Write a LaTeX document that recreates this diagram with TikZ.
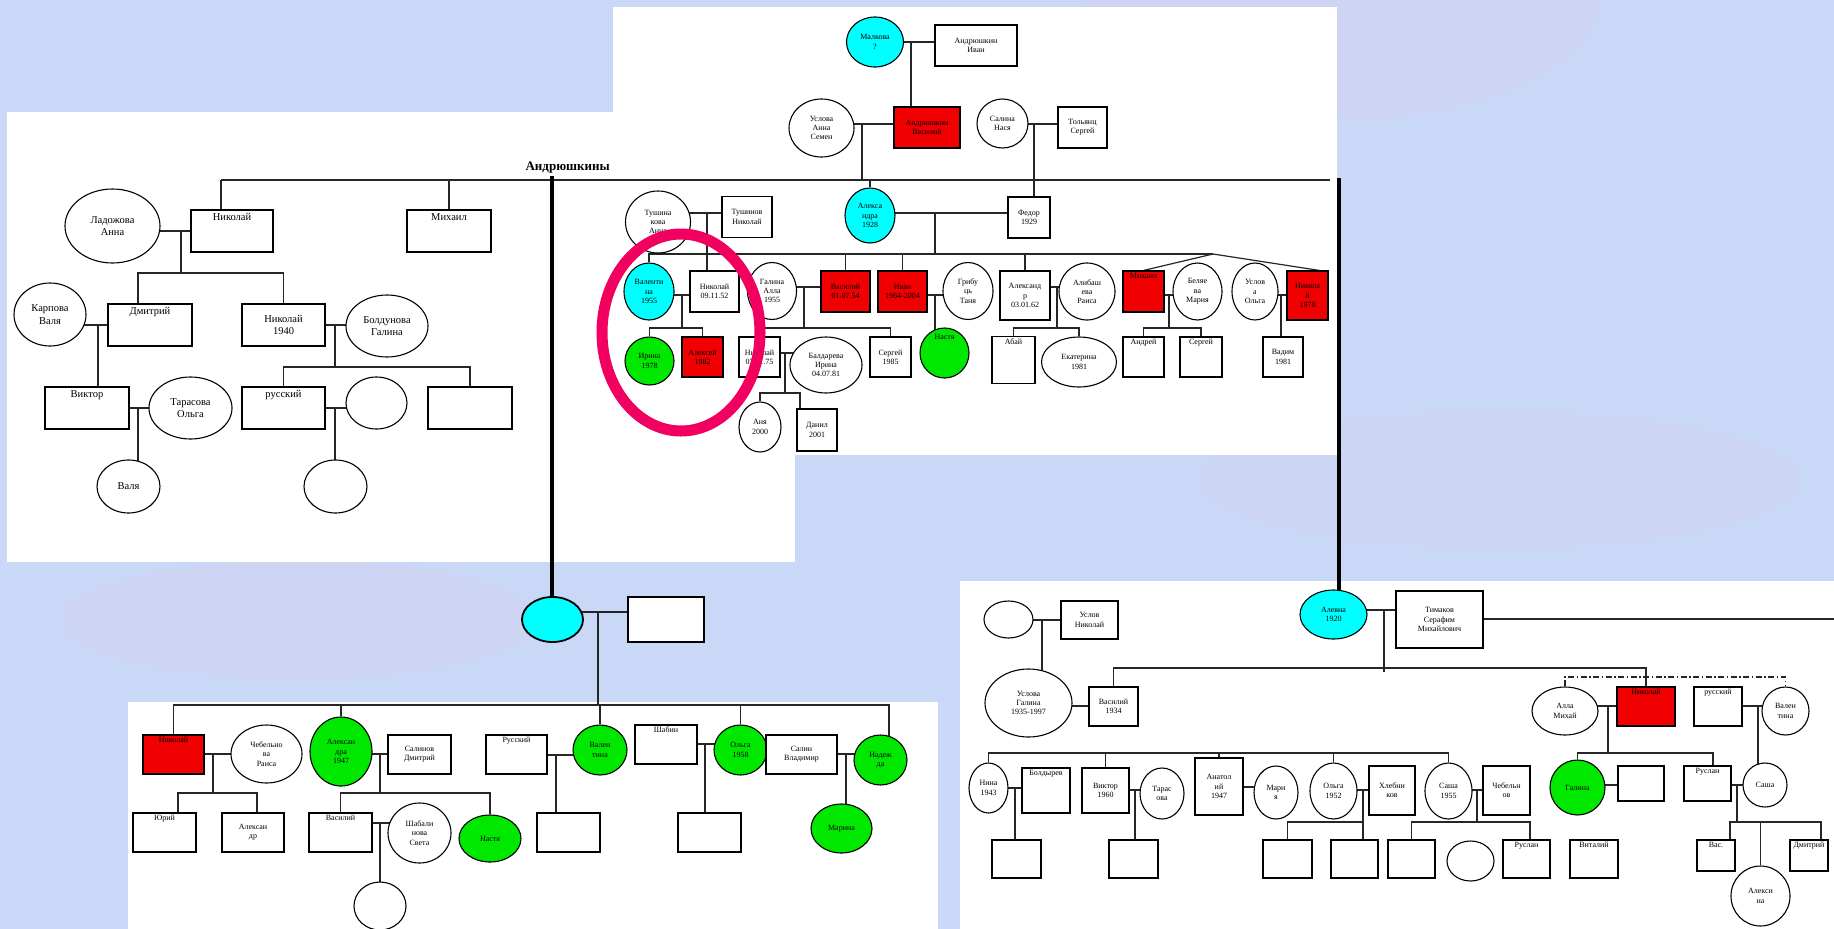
\documentclass[tikz,border=0pt]{standalone}
\usepackage{fontspec}
\setmainfont{Liberation Serif}
\usetikzlibrary{shapes.geometric}
\pgfdeclarelayer{panels}
\pgfdeclarelayer{lines}
\pgfsetlayers{panels,lines,main}
\definecolor{bgc}{RGB}{200,216,246}
\definecolor{bgd}{RGB}{214,208,242}
\definecolor{cyanc}{RGB}{0,255,255}
\definecolor{redc}{RGB}{240,0,0}
\definecolor{greenc}{RGB}{0,232,0}
\definecolor{pinkc}{RGB}{242,0,96}
\newcommand\smfnt{\fontsize{8}{9.3}\selectfont}
\newcommand\bgfnt{\fontsize{10.5}{12.5}\selectfont}
\tikzset{
  pp/.style={draw=black, line width=1.1pt, fill=white, inner sep=0.5pt, align=center, font=\smfnt},
  bx/.style={pp, rectangle},
  el/.style={pp, ellipse},
  big/.style={font=\bgfnt},
  cy/.style={fill=cyanc},
  rd/.style={fill=redc},
  gr/.style={fill=greenc},
  sz/.style 2 args={minimum width=#1pt, minimum height=#2pt},
  tt/.style={label={[anchor=north,inner sep=2.5pt,font=\smfnt]north:#1}},
  tte/.style={label={[anchor=north,inner sep=7pt,font=\smfnt]north:#1}},
  ttb/.style={label={[anchor=north,inner sep=4pt,font=\bgfnt]north:#1}},
  ln/.style={line width=1.2pt, draw=black!85},
  thk/.style={line width=4pt, draw=black},
  ddash/.style={ln, dash pattern=on 6pt off 2.5pt on 1.5pt off 2.5pt},
}
\begin{document}
\begin{tikzpicture}[x=1pt,y=-1pt]
\useasboundingbox (0,0) rectangle (1834,929);
\begin{pgfonlayer}{panels}
  \fill[bgc] (0,0) rectangle (1834,929);
  \fill[bgd,opacity=0.45] (1340,0) ellipse [x radius=260pt, y radius=120pt];
  \fill[bgd,opacity=0.45] (300,620) ellipse [x radius=240pt, y radius=60pt];
  \fill[bgd,opacity=0.35] (1500,480) ellipse [x radius=300pt, y radius=70pt];
  \fill[white] (7,112) rectangle (795,562);
  \fill[white] (613,7) rectangle (1337,455);
  \fill[white] (128,702) rectangle (938,929);
  \fill[white] (960,581) rectangle (1834,929);
\end{pgfonlayer}

% ---------- top panel ----------
\node[el,cy,sz={57}{50}] (malk) at (875,42) {Малкова\\?};
\node[bx,sz={82}{41}] (ivan) at (976,45.5) {Андрюшкин\\Иван};
\node[bx,rd,sz={66}{41}] (vasA) at (927,127.5) {Андрюшкин\\Василий};
\node[el,sz={65}{58}] (uslA) at (821.5,128) {Услова\\Анна\\Семен};
\node[el,sz={51}{49}] (salN) at (1002.5,123.5) {Салина\\Нася};
\node[bx,sz={49}{41}] (tolS) at (1082.5,127.5) {Тольянц\\Сергей};
\node[el,sz={65}{62}] (tush) at (658,222) {Тушина\\кова\\Анна};
\node[bx,sz={50}{41}] (tushN) at (747,217) {Тушинов\\Николай};
\node[el,cy,sz={50}{55}] (alex28) at (870,215.5) {Алекса\\ндра\\1928};
\node[bx,sz={42}{41}] (fed) at (1029,217.5) {Федор\\1929};
\node[el,cy,sz={50}{57}] (val55) at (649,291.5) {Валенти\\на\\1955};
\node[bx,sz={49}{41}] (nik52) at (714.5,291.5) {Николай\\09.11.52};
\node[el,sz={49}{57}] (galA) at (772,291) {Галина\\Алла\\1955};
\node[bx,rd,sz={49}{41}] (vas54) at (845.5,291.5) {Василий\\01.07.54};
\node[bx,rd,sz={49}{41}] (ivan64) at (902.5,291.5) {Иван\\1964-2004};
\node[el,sz={50}{57}] (grib) at (968,291) {Грибу\\ць\\Таня};
\node[bx,sz={50}{49}] (alexr) at (1025,295.5) {Александ\\р\\03.01.62};
\node[el,sz={56}{57}] (alib) at (1087,291.5) {Алибаш\\ева\\Раиса};
\node[bx,rd,sz={41}{41},tt={Михаил}] (mikh) at (1143.5,291.5) {};
\node[el,sz={49}{57}] (bel) at (1197.5,291.5) {Беляе\\ва\\Мария};
\node[el,sz={46}{57}] (uslO) at (1255,291.5) {Услов\\а\\Ольга};
\node[bx,rd,sz={41}{49}] (nik78) at (1307.5,295.5) {Никола\\й\\1978};
\node[el,gr,sz={49}{48}] (irina) at (649.5,361) {Ирина\\1978};
\node[bx,rd,sz={41}{40}] (alexey) at (702.5,357) {Алексей\\1982};
\node[bx,sz={41}{40}] (nik75) at (759.5,357) {Николай\\07.11.75};
\node[el,sz={72}{56}] (bald) at (826,365) {Балдарева\\Ирина\\04.07.81};
\node[bx,sz={41}{40}] (serg85) at (890.5,357) {Сергей\\1985};
\node[el,gr,sz={49}{50},tte={Настя}] (nast1) at (944.5,353) {};
\node[bx,sz={43}{47},tt={Абай}] (abai) at (1013.5,360) {};
\node[el,sz={75}{50}] (ekat) at (1079,362) {Екатерина\\1981};
\node[bx,sz={41}{40},tt={Андрей}] (andr) at (1143.5,357) {};
\node[bx,sz={42}{40},tt={Сергей}] (serg) at (1201,357) {};
\node[bx,sz={40}{40}] (vad) at (1283,357) {Вадим\\1981};
\node[el,sz={42}{50}] (lev) at (760,427) {Аня\\2000};
\node[bx,sz={40}{42}] (dan) at (817,430) {Данил\\2001};

% ---------- left panel ----------
\node[anchor=base east,font=\fontsize{13}{15}\selectfont\bfseries,inner sep=1pt] (andlab) at (611,170) {Андрюшкины};
\node[bx,big,sz={82}{42},ttb={Николай}] (nikL) at (232,231) {};
\node[bx,big,sz={84}{42},ttb={Михаил}] (mikhL) at (449,231) {};
\node[el,big,sz={95}{74}] (lad) at (112.5,226) {Ладожова\\Анна};
\node[el,big,sz={72}{63}] (karp) at (50,314.5) {Карпова\\Валя};
\node[bx,big,sz={84}{42},ttb={Дмитрий}] (dmit) at (150,325) {};
\node[bx,big,sz={83}{42}] (nik40) at (283.5,325) {Николай\\1940};
\node[el,big,sz={82}{62}] (bold) at (387,326) {Болдунова\\Галина};
\node[bx,big,sz={84}{42},ttb={Виктор}] (vikt) at (87,408) {};
\node[el,big,sz={83}{62}] (tar) at (190.5,408) {Тарасова\\Ольга};
\node[el,big,sz={63}{53}] (valya) at (128.5,486.5) {Валя};
\node[bx,big,sz={83}{42},ttb={русский}] (rus1) at (283.5,408) {};
\node[el,sz={61}{52}] (e1) at (376.5,403) {};
\node[el,sz={63}{53}] (e2) at (335.5,486.5) {};
\node[bx,sz={84}{42}] (b1) at (470,408) {};

% ---------- middle couple ----------
\node[el,cy,line width=1.8pt,sz={61}{45}] (cyanM) at (552.5,619.5) {};
\node[bx,line width=1.8pt,sz={76}{45}] (boxM) at (666,619.5) {};

% ---------- bottom-left panel ----------
\node[bx,rd,sz={61}{39},tt={Николай}] (nikB) at (173.5,754.5) {};
\node[el,sz={71}{58}] (cheb) at (266.5,754) {Чебельно\\ва\\Раиса};
\node[el,gr,sz={62}{69}] (alex47) at (341,751.5) {Алексан\\дра\\1947};
\node[bx,sz={63}{39}] (salD) at (419.5,754.5) {Салинов\\Дмитрий};
\node[bx,sz={61}{39},tt={Русский}] (rusB) at (516.5,754.5) {};
\node[el,gr,sz={54}{50}] (valB) at (600,750) {Вален\\тина};
\node[bx,sz={62}{39},tt={Шабин}] (shab) at (666,744.5) {};
\node[el,gr,sz={53}{50}] (olga58) at (740.5,750) {Ольга\\1958};
\node[bx,sz={71}{39}] (salV) at (801.5,754.5) {Салин\\Владимир};
\node[el,gr,sz={53}{50}] (nad) at (880.5,760) {Надеж\\да};
\node[bx,sz={63}{39},tt={Юрий}] (yur) at (164.5,832.5) {};
\node[bx,sz={62}{39}] (alexB) at (253,832.5) {Алексан\\др};
\node[bx,sz={63}{39},tt={Василий}] (vasB) at (340.5,832.5) {};
\node[el,sz={63}{60}] (shabS) at (419.5,833) {Шабали\\нова\\Света};
\node[el,gr,sz={62}{47}] (nastB) at (490,838.5) {Настя};
\node[bx,sz={63}{39}] (eb1) at (568.5,832.5) {};
\node[bx,sz={63}{39}] (eb2) at (709.5,832.5) {};
\node[el,gr,sz={61}{49}] (mar) at (841.5,828.5) {Марина};
\node[el,sz={52}{48}] (ee1) at (380,906) {};

% ---------- bottom-right panel ----------
\node[el,sz={49}{37}] (er1) at (1008.5,619.5) {};
\node[bx,sz={57}{38}] (uslN) at (1089.5,620) {Услов\\Николай};
\node[el,sz={87}{68}] (uslG) at (1028.5,703) {Услова\\Галина\\1935-1997};
\node[bx,sz={49}{39}] (vas34) at (1113.5,706.5) {Василий\\1934};
\node[el,cy,sz={67}{49}] (alev) at (1333.5,614.5) {Алевна\\1920};
\node[bx,sz={87}{57}] (tim) at (1439.5,619.5) {Тимаков\\Серафим\\Михайлович};
\node[el,sz={66}{48}] (alla) at (1565,711) {Алла\\Михай};
\node[bx,rd,sz={58}{39},tt={Николай}] (nikR) at (1646,706.5) {};
\node[bx,sz={48}{39},tt={русский}] (rusR) at (1718,706.5) {};
\node[el,sz={47}{48}] (valR) at (1785.5,711) {Вален\\тина};
\node[el,sz={39}{50}] (nina) at (988.5,788) {Нина\\1943};
\node[bx,sz={48}{45},tt={Болдырев}] (boldR) at (1046,790.5) {};
\node[bx,sz={47}{45}] (vik60) at (1105.5,790.5) {Виктор\\1960};
\node[el,sz={44}{51}] (tarR) at (1162,793.5) {Тарас\\ова};
\node[bx,sz={48}{57}] (anat) at (1219,786.5) {Анатол\\ий\\1947};
\node[el,sz={44}{53}] (mari) at (1276,792.5) {Мари\\я};
\node[el,sz={47}{56}] (olga52) at (1333.5,791) {Ольга\\1952};
\node[bx,sz={46}{49}] (hleb) at (1392,790.5) {Хлебни\\ков};
\node[el,sz={47}{56}] (sasha55) at (1448.5,791) {Саша\\1955};
\node[bx,sz={47}{49}] (chebR) at (1506.5,790.5) {Чебельн\\ов};
\node[el,gr,sz={55}{55}] (galG) at (1577.5,787.5) {Галина};
\node[bx,sz={46}{35}] (ebR) at (1641,783.5) {};
\node[bx,sz={47}{35},tt={Руслан}] (ruslR) at (1707.5,783.5) {};
\node[el,sz={44}{44}] (sashaR) at (1765,785) {Саша};
\node[bx,sz={49}{38}] (L1) at (1016.5,859) {};
\node[bx,sz={49}{38}] (L2) at (1133.5,859) {};
\node[bx,sz={49}{38}] (L3) at (1287.5,859) {};
\node[bx,sz={47}{38}] (L4) at (1354.5,859) {};
\node[bx,sz={47}{38}] (L5) at (1411.5,859) {};
\node[el,sz={47}{40}] (L6) at (1470.5,861) {};
\node[bx,sz={47}{38},tt={Руслан}] (ruslL) at (1526.5,859) {};
\node[bx,sz={48}{38},tt={Виталий}] (vitL) at (1594,859) {};
\node[bx,sz={38}{31},tt={Вас.}] (vasL) at (1716,855.5) {};
\node[bx,sz={38}{31},tt={Дмитрий}] (dmL) at (1809,855.5) {};
\node[el,sz={59}{60}] (alexina) at (1760.5,896) {Алекси\\на};

% ---------- coordinates ----------
\coordinate (andL) at (221,180);
\coordinate (andR) at (1330,180);
\coordinate (j1) at (911,42);
\coordinate (j2) at (862,124);
\coordinate (j3) at (1034,124);
\coordinate (j4) at (707,213);
\coordinate (j5) at (935,213);
\coordinate (sibP) at (1213,254);
\coordinate (j6) at (682,295);
\coordinate (b6) at (682,328);
\coordinate (j7) at (804,287);
\coordinate (b7) at (804,328);
\coordinate (j8) at (935,295);
\coordinate (j9) at (1057,287);
\coordinate (b9) at (1057,328);
\coordinate (j10) at (1169,295);
\coordinate (b10) at (1169,328);
\coordinate (j11) at (1281,295);
\coordinate (j12) at (785,353);
\coordinate (b12) at (785,393);
\coordinate (d12) at (800,393);
\coordinate (jL1) at (181,231);
\coordinate (bL1) at (181,273);
\coordinate (jL2) at (98,325);
\coordinate (jL3) at (335,325);
\coordinate (bL3) at (335,367);
\coordinate (jL4) at (138,408);
\coordinate (jL5) at (335,408);
\coordinate (tA) at (552,176);
\coordinate (tB) at (1339,178);
\coordinate (jM) at (598,612);
\coordinate (bBL) at (598,705);
\coordinate (jB1) at (213,754);
\coordinate (bB1) at (213,793);
\coordinate (jB2) at (380,754);
\coordinate (bB2) at (380,793);
\coordinate (jB3) at (556,755);
\coordinate (jB4) at (705,744);
\coordinate (jB5) at (846,754);
\coordinate (jB6) at (380,823);
\coordinate (jR1) at (1042,620);
\coordinate (jR2) at (1080,706);
\coordinate (jR3) at (1384,610);
\coordinate (bR1) at (1384,668);
\coordinate (tR) at (1834,619);
\coordinate (dd) at (1646,677);
\coordinate (jR4) at (1608,706);
\coordinate (bR4) at (1608,753);
\coordinate (jR5) at (1758,706);
\coordinate (bR6) at (1200,753);
\coordinate (jR7) at (1015,788);
\coordinate (jR8) at (1135,790);
\coordinate (jR9) at (1248,787);
\coordinate (jR10) at (1363,790);
\coordinate (bR10) at (1363,822);
\coordinate (jR11) at (1477,790);
\coordinate (bR11) at (1477,822);
\coordinate (jR12) at (1611,785);
\coordinate (jR13) at (1737,785);
\coordinate (bR13) at (1737,822);

\begin{pgfonlayer}{lines}
% top panel
\draw[ln] (malk) -- (malk -| ivan);
\draw[ln] (j1) -- (j1 |- vasA);
\draw[ln] (uslA |- j2) -- (vasA |- j2);
\draw[ln] (j2) -- (j2 |- andL);
\draw[ln] (andL) -- (andR);
\draw[ln] (alex28 |- andL) -- (alex28);
\draw[ln] (salN |- j3) -- (tolS |- j3);
\draw[ln] (j3) -- (j3 |- fed);
\draw[ln] (tush |- j4) -- (tushN |- j4);
\draw[ln] (j4) -- (j4 |- nik52);
\draw[ln] (alex28 |- j5) -- (fed |- j5);
\draw[ln] (j5) -- (j5 |- sibP);
\draw[ln] (val55) -- (val55 |- sibP) -- (sibP);
\draw[ln] (vas54 |- sibP) -- (vas54);
\draw[ln] (ivan64 |- sibP) -- (ivan64);
\draw[ln] (alexr |- sibP) -- (alexr);
\draw[ln] (mikh.north) -- (sibP) -- ([xshift=12pt]nik78.north);
\draw[ln] (val55 |- j6) -- (nik52 |- j6);
\draw[ln] (j6) -- (b6);
\draw[ln] (irina) |- (b6) -| (alexey);
\draw[ln] (galA |- j7) -- (vas54 |- j7);
\draw[ln] (j7) -- (b7);
\draw[ln] (nik75) |- (b7) -| (serg85);
\draw[ln] (ivan64 |- j8) -- (grib |- j8);
\draw[ln] (j8) -- (j8 |- nast1);
\draw[ln] (alexr |- j9) -- (alib |- j9);
\draw[ln] (j9) -- (b9);
\draw[ln] (abai) |- (b9) -| (ekat);
\draw[ln] (mikh |- j10) -- (bel |- j10);
\draw[ln] (j10) -- (b10);
\draw[ln] (andr) |- (b10) -| (serg);
\draw[ln] (uslO |- j11) -- (nik78 |- j11);
\draw[ln] (j11) -- (j11 |- vad);
\draw[ln] (nik75 |- j12) -- (bald |- j12);
\draw[ln] (j12) -- (b12);
\draw[ln] (lev) |- (d12) -- (d12 |- dan);
% left panel
\draw[ln] (andL) -- (andL |- nikL);
\draw[ln] (mikhL |- andL) -- (mikhL);
\draw[ln] (lad |- jL1) -- (nikL |- jL1);
\draw[ln] (jL1) -- (bL1);
\draw[ln] ([xshift=-12pt]dmit.center) |- (bL1) -| (nik40);
\draw[ln] (karp |- jL2) -- (dmit |- jL2);
\draw[ln] (jL2) -- (jL2 |- vikt);
\draw[ln] (nik40 |- jL3) -- (bold |- jL3);
\draw[ln] (jL3) -- (bL3);
\draw[ln] (rus1) |- (bL3) -| (b1);
\draw[ln] (vikt |- jL4) -- (tar |- jL4);
\draw[ln] (jL4) -- (jL4 |- valya);
\draw[ln] (rus1 |- jL5) -- (e1 |- jL5);
\draw[ln] (jL5) -- (jL5 |- e2);
\draw[thk] (tA) -- (tA |- cyanM);
\draw[thk] (tB) -- (tB |- alev);
% middle + bottom-left
\draw[ln,line width=1.6pt] (cyanM |- jM) -- (boxM |- jM);
\draw[ln,line width=1.6pt] (jM) -- (bBL);
\draw[ln] (nikB) |- (bBL) -| ([xshift=8.5pt]nad.center);
\draw[ln] (alex47 |- bBL) -- (alex47);
\draw[ln] (valB |- bBL) -- (valB);
\draw[ln] (olga58 |- bBL) -- (olga58);
\draw[ln] (nikB |- jB1) -- (cheb |- jB1);
\draw[ln] (jB1) -- (bB1);
\draw[ln] ([xshift=13.5pt]yur.center) |- (bB1) -| ([xshift=4pt]alexB.center);
\draw[ln] (alex47 |- jB2) -- (salD |- jB2);
\draw[ln] (jB2) -- (bB2);
\draw[ln] (vasB) |- (bB2) -| (nastB);
\draw[ln] (rusB |- jB3) -- (valB |- jB3);
\draw[ln] (jB3) -- (jB3 |- eb1);
\draw[ln] (shab |- jB4) -- (olga58 |- jB4);
\draw[ln] (jB4) -- (jB4 |- eb2);
\draw[ln] (salV |- jB5) -- (nad |- jB5);
\draw[ln] (jB5) -- (jB5 |- mar);
\draw[ln] (vasB |- jB6) -- (shabS |- jB6);
\draw[ln] (jB6) -- (jB6 |- ee1);
% bottom-right
\draw[ln] (er1 |- jR1) -- (uslN |- jR1);
\draw[ln] (jR1) -- (jR1 |- uslG);
\draw[ln] (uslG |- jR2) -- (vas34 |- jR2);
\draw[ln] (alev |- jR3) -- (tim |- jR3);
\draw[ln,line width=2.6pt] (jR3) -- ([yshift=-4pt]bR1);
\draw[ln] (vas34) |- (bR1) -| (nikR);
\draw[ln] (tim |- tR) -- (tR);
\draw[ddash] (alla) |- (dd) -| (valR);
\draw[ln] (alla |- jR4) -- (nikR |- jR4);
\draw[ln] (jR4) -- (bR4);
\draw[ln] (galG) |- (bR4) -| ([xshift=5.5pt]ruslR.center);
\draw[ln] (rusR |- jR5) -- (valR |- jR5);
\draw[ln] (jR5) -- (jR5 |- sashaR);
\draw[ln] (nina) |- (bR6) -| (sasha55);
\draw[ln] (vik60 |- bR6) -- (vik60);
\draw[ln] (anat |- bR6) -- (anat);
\draw[ln] (olga52 |- bR6) -- (olga52);
\draw[ln] (nina |- jR7) -- (boldR |- jR7);
\draw[ln] (jR7) -- (jR7 |- L1);
\draw[ln] (vik60 |- jR8) -- (tarR |- jR8);
\draw[ln] (jR8) -- (jR8 |- L2);
\draw[ln] (anat |- jR9) -- (mari |- jR9);
\draw[ln] (olga52 |- jR10) -- (hleb |- jR10);
\draw[ln] (jR10) -- (bR10);
\draw[ln] (L3) |- (bR10) -- (bR10 |- L4);
\draw[ln] (sasha55 |- jR11) -- (chebR |- jR11);
\draw[ln] (jR11) -- (bR11);
\draw[ln] (L5) |- (bR11) -| ([xshift=3.5pt]ruslL.center);
\draw[ln] (galG |- jR12) -- (ebR |- jR12);
\draw[ln] (ruslR |- jR13) -- (sashaR |- jR13);
\draw[ln] (jR13) -- (bR13);
\draw[ln] ([xshift=14pt]vasL.center) |- (bR13) -| ([xshift=12pt]dmL.center);
\draw[ln] (alexina |- bR13) -- (alexina);
\end{pgfonlayer}

\node[ellipse,draw=pinkc,line width=11pt,minimum width=158pt,minimum height=197pt,inner sep=0pt] (ring) at (681,332.5) {};
\end{tikzpicture}
\end{document}
